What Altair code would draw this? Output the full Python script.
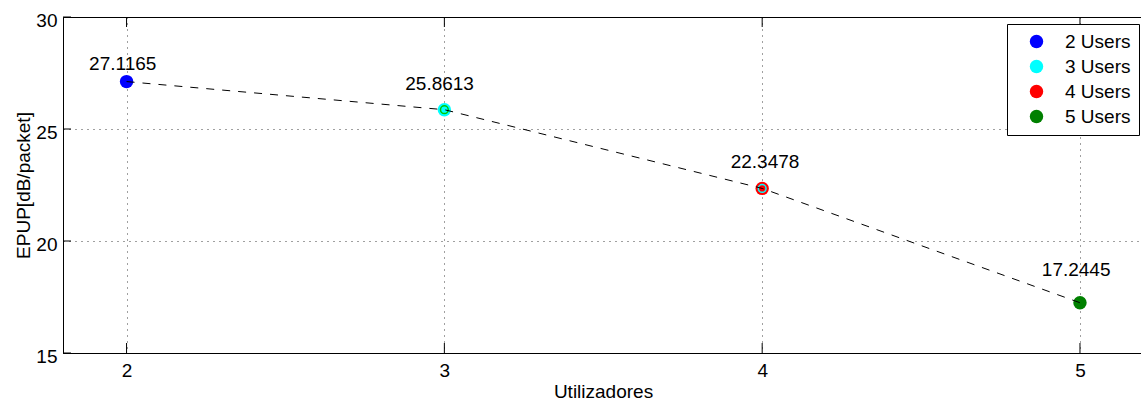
import altair as alt
import pandas as pd

# ---- data ----
users = [2, 3, 4, 5]
epup = [27.1165, 25.8613, 22.3478, 17.2445]
series = ["2 Users", "3 Users", "4 Users", "5 Users"]
colors = ["#0000ff", "#00ffff", "#ff0000", "#008000"]
label_text = ["27.1165", "25.8613", "22.3478", "17.2445"]
label_x = [1.988, 2.985, 4.009, 4.988]
label_y = [27.63, 26.74, 23.24, 18.43]
ring_users = [3, 4]
ring_epup = [25.8613, 22.3478]
ring_colors = ["#00c800", "#00ffff"]
x_ticks = [2, 3, 4, 5]
y_ticks = [15, 20, 25, 30]

W, H = 1078, 336
FONT = "Liberation Sans"

df = pd.DataFrame({"users": users, "epup": epup, "series": series})
df_lab = pd.DataFrame({"lx": label_x, "ly": label_y, "txt": label_text})
df_ring = pd.DataFrame({"users": ring_users, "epup": ring_epup, "rc": ring_colors})
df_xt = pd.DataFrame({"t": x_ticks})
df_yt = pd.DataFrame({"t": y_ticks})

xscale = alt.Scale(domain=[1.8, 5.192], nice=False, zero=False)
yscale = alt.Scale(domain=[15, 30], nice=False, zero=False)

axis_style = dict(
    grid=True, ticks=False, tickSize=0, labelFlush=False, labelOverlap=False,
    domainColor="black", domainWidth=1,
    gridColor="black", gridDash=[1, 5], gridOpacity=0.75, gridWidth=1,
    labelFont=FONT, labelFontSize=19, labelColor="black",
    titleFont=FONT, titleFontSize=19, titleFontWeight="normal", titleColor="black",
    format="d",
)

x_axis = alt.Axis(
    values=x_ticks, title="Utilizadores",
    labelPadding=23, labelBaseline="alphabetic",
    titleX=540, titleY=44, titleBaseline="alphabetic", titleAlign="center",
    **axis_style,
)
y_axis = alt.Axis(
    values=y_ticks, title="EPUP[dB/packet]",
    labelPadding=6, labelBaseline="alphabetic", labelOffset=9,
    titleX=-34, titleY=H / 2, titleAngle=270,
    titleBaseline="alphabetic", titleAlign="center",
    **axis_style,
)

base = alt.Chart(df)

points = base.mark_circle(size=180, opacity=1).encode(
    x=alt.X("users:Q", scale=xscale, axis=x_axis),
    y=alt.Y("epup:Q", scale=yscale, axis=y_axis),
    color=alt.Color(
        "series:N",
        scale=alt.Scale(domain=series, range=colors),
        legend=alt.Legend(
            title=None, orient="none", legendX=944, legendY=7,
            strokeColor="black", fillColor="white", padding=8,
            symbolType="circle", symbolSize=180, symbolOffset=12,
            symbolStrokeWidth=0, labelFont=FONT, labelFontSize=19,
            labelColor="black", labelOffset=19, rowPadding=5,
        ),
    ),
)

rings = alt.Chart(df_ring).mark_point(filled=False, size=60, strokeWidth=1.5, opacity=1).encode(
    x=alt.X("users:Q", scale=xscale, axis=x_axis),
    y=alt.Y("epup:Q", scale=yscale, axis=y_axis),
    stroke=alt.Stroke("rc:N", scale=None),
)

line = base.mark_line(color="black", strokeDash=[8, 8], strokeWidth=1).encode(
    x=alt.X("users:Q", scale=xscale, axis=x_axis),
    y=alt.Y("epup:Q", scale=yscale, axis=y_axis),
)

labels = alt.Chart(df_lab).mark_text(
    font=FONT, fontSize=19, align="center", baseline="alphabetic", color="black"
).encode(
    x=alt.X("lx:Q", scale=xscale, axis=x_axis),
    y=alt.Y("ly:Q", scale=yscale, axis=y_axis),
    text="txt:N",
)

xt_bottom = alt.Chart(df_xt).mark_rule(color="black", strokeWidth=1).encode(
    x=alt.X("t:Q", scale=xscale, axis=x_axis),
    y=alt.value(H), y2=alt.value(H - 10),
)
xt_top = alt.Chart(df_xt).mark_rule(color="black", strokeWidth=1).encode(
    x=alt.X("t:Q", scale=xscale, axis=x_axis),
    y=alt.value(0), y2=alt.value(10),
)
yt_left = alt.Chart(df_yt).mark_rule(color="black", strokeWidth=1).encode(
    y=alt.Y("t:Q", scale=yscale, axis=y_axis),
    x=alt.value(0), x2=alt.value(8),
)

chart = alt.layer(
    xt_bottom, xt_top, yt_left, points, rings, line, labels
).properties(
    width=W, height=H,
    autosize=alt.AutoSizeParams(type="none"),
    padding={"left": 63, "top": 17, "right": 0, "bottom": 48},
).configure(
    background="white", font=FONT
).configure_view(
    stroke="black", strokeWidth=1
)

chart.save("out.html", embed_options={"renderer": "svg", "actions": False})
